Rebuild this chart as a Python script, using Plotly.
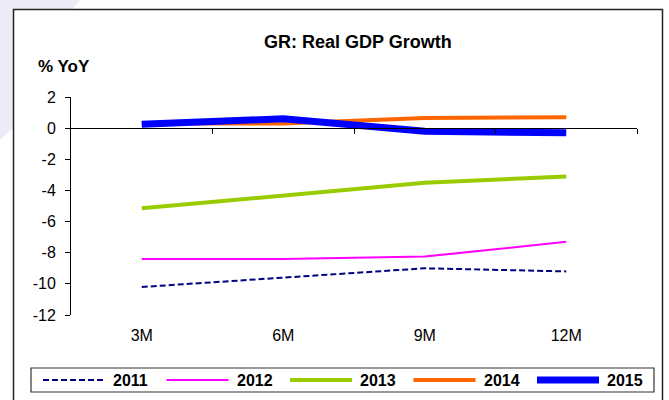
import plotly.graph_objects as go

# ---- data -------------------------------------------------------------
periods = ["3M", "6M", "9M", "12M"]
years = ["2011", "2012", "2013", "2014", "2015"]
gdp_2011 = [-10.2, -9.6, -9.0, -9.2]
gdp_2012 = [-8.4, -8.4, -8.25, -7.3]
gdp_2013 = [-5.15, -4.3, -3.5, -3.1]
gdp_2014 = [0.3, 0.3, 0.65, 0.7]
gdp_2015 = [0.25, 0.6, -0.2, -0.3]
y_tick_values = [2, 0, -2, -4, -6, -8, -10, -12]

series = [gdp_2011, gdp_2012, gdp_2013, gdp_2014, gdp_2015]

# ---- styling ----------------------------------------------------------
styles = {
    "2011": dict(color="#000080", width=2, dash="6px,3px"),
    "2012": dict(color="#FF00FF", width=2, dash="solid"),
    "2013": dict(color="#99CC00", width=4, dash="solid"),
    "2014": dict(color="#FF6600", width=4, dash="solid"),
    "2015": dict(color="#0000FF", width=7, dash="solid"),
}
FONT = "Liberation Sans, Arial, sans-serif"

W, H = 669, 400
PL, PR, PT, PB = 71, 637, 97, 315  # plot area edges in pixels


def px(x):
    return (x - PL) / (PR - PL)


def py(y):
    return (PB - y) / (PB - PT)


x_idx = list(range(len(periods)))

fig = go.Figure()
for year, vals in zip(years, series):
    st = styles[year]
    fig.add_trace(go.Scatter(
        x=x_idx, y=vals, mode="lines", name=year,
        line=dict(color=st["color"], width=st["width"], dash=st["dash"]),
        showlegend=False, hoverinfo="skip",
    ))

shapes = []
# light slide swoosh around the top-left corner, outside the chart frame
shapes.append(dict(
    type="path", xref="paper", yref="paper", layer="below",
    path=(f"M {px(0)},{py(0)} L {px(80)},{py(0)} L {px(72)},{py(9)} "
          f"L {px(13)},{py(9)} L {px(13)},{py(128)} L {px(0)},{py(140)} Z"),
    fillcolor="#ECEBF7", line=dict(width=0),
))
# chart frame
shapes.append(dict(
    type="rect", xref="paper", yref="paper", layer="above",
    x0=px(13.5), x1=px(662.5), y0=py(9.5), y1=py(430),
    fillcolor="rgba(0,0,0,0)", line=dict(color="#222222", width=1.5),
))
# legend box
shapes.append(dict(
    type="rect", xref="paper", yref="paper", layer="above",
    x0=px(31), x1=px(654), y0=py(368), y1=py(392),
    fillcolor="white", line=dict(color="#333333", width=1.2),
))

annotations = [
    dict(text="<b>GR: Real GDP Growth</b>", xref="paper", yref="paper",
         x=px(358), y=py(42), xanchor="center", yanchor="middle",
         showarrow=False, font=dict(family=FONT, size=18, color="black")),
    dict(text="<b>% YoY</b>", xref="paper", yref="paper",
         x=px(36), y=py(66), xanchor="left", yanchor="middle",
         showarrow=False, font=dict(family=FONT, size=17, color="black")),
]

# legend entries
leg_y = py(380)
for i, year in enumerate(years):
    st = styles[year]
    x0 = 43 + i * 123.5
    shapes.append(dict(
        type="line", xref="paper", yref="paper", layer="above",
        x0=px(x0), x1=px(x0 + 62), y0=leg_y, y1=leg_y,
        line=dict(color=st["color"], width=st["width"],
                  dash="6px,3px" if st["dash"] != "solid" else "solid"),
    ))
    annotations.append(dict(
        text=f"<b>{year}</b>", xref="paper", yref="paper",
        x=px(x0 + 68), y=leg_y, xanchor="left", yanchor="middle",
        showarrow=False, font=dict(family=FONT, size=16, color="black"),
    ))

fig.update_layout(
    width=W, height=H,
    margin=dict(l=PL, r=W - PR, t=PT, b=H - PB, pad=0),
    paper_bgcolor="white", plot_bgcolor="rgba(0,0,0,0)",
    showlegend=False,
    xaxis=dict(
        range=[-0.5, len(periods) - 0.5],
        tickvals=x_idx, ticktext=periods,
        showline=False, showgrid=False, zeroline=False,
        ticks="outside", ticklen=6, tickcolor="rgba(0,0,0,0)",
        tickfont=dict(family=FONT, size=16, color="black"),
    ),
    xaxis2=dict(
        overlaying="x", matches="x", anchor="free", position=12 / 14,
        side="bottom",
        tickvals=[i + 0.5 for i in x_idx], showticklabels=False,
        showline=True, linecolor="black", linewidth=1,
        ticks="outside", ticklen=5, tickcolor="black", tickwidth=1,
        showgrid=False, zeroline=False,
    ),
    yaxis=dict(
        range=[-12, 2], tickvals=y_tick_values,
        ticktext=[str(v) for v in y_tick_values],
        showline=True, linecolor="black", linewidth=1,
        ticks="outside", ticklen=5, tickcolor="black",
        showgrid=False, zeroline=False,
        tickfont=dict(family=FONT, size=16, color="black"),
        ticklabelstandoff=6,
    ),
    shapes=shapes,
    annotations=annotations,
)

# invisible companion trace so the zero-level axis is rendered
fig.add_trace(go.Scatter(x=[x_idx[0]], y=[0], xaxis="x2", mode="markers",
                         marker=dict(opacity=0), showlegend=False,
                         hoverinfo="skip"))

fig.write_html("out.html")
